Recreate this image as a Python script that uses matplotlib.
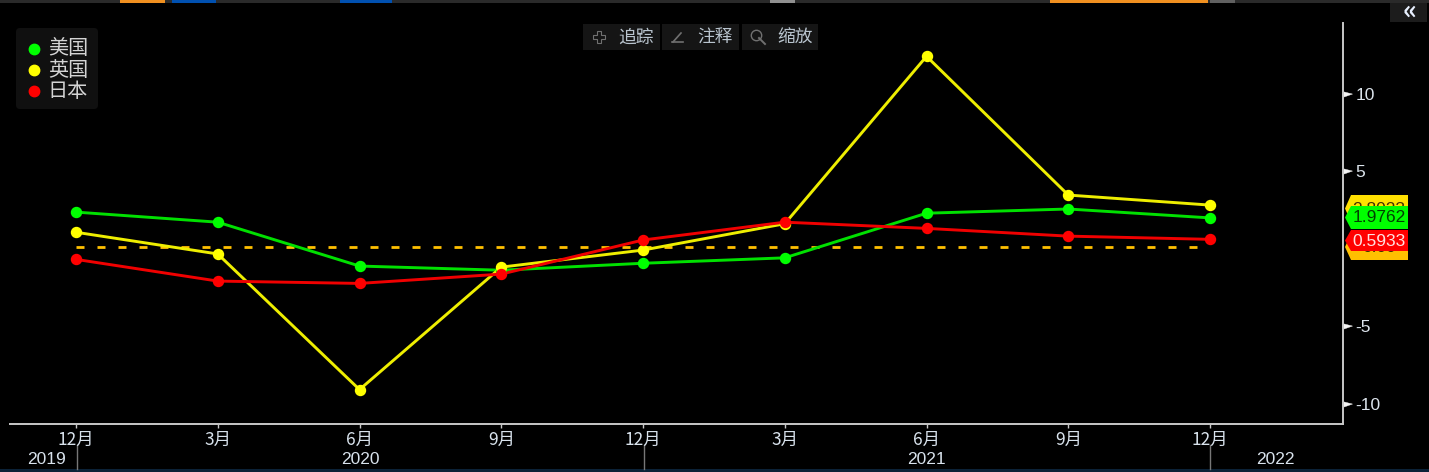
import matplotlib
matplotlib.use("Agg")
import matplotlib.pyplot as plt
from matplotlib.patches import Rectangle, FancyBboxPatch, Polygon
from matplotlib.lines import Line2D
from matplotlib.path import Path

plt.rcParams['font.family'] = ['Noto Sans CJK SC', 'DejaVu Sans']

W, H = 1429, 472
months = ['12月', '3月', '6月', '9月', '12月', '3月', '6月', '9月', '12月']
years = ['2019', '2020', '2021', '2022']
us = [2.35, 1.7, -1.13, -1.4, -0.95, -0.6, 2.28, 2.55, 1.9762]
uk = [1.05, -0.35, -9.1, -1.2, -0.1, 1.6, 12.4, 3.45, 2.8023]
jp = [-0.7, -2.1, -2.25, -1.65, 0.55, 1.7, 1.3, 0.8, 0.5933]
ref_line = [0.1, 0.1]
yticks = [-10, -5, 5, 10]
names = ['美国', '英国', '日本']
buttons = ['追踪', '注释', '缩放']
tag_labels = ['2.8023', '0.00', '1.9762', '0.5933']

fig = plt.figure(figsize=(W / 100, H / 100), dpi=100, facecolor='black')
bg = fig.add_axes([0, 0, 1, 1], facecolor='black')
bg.set_xlim(0, W); bg.set_ylim(H, 0); bg.axis('off')

L, R, T, B = 10, 1343, 23, 424
ax = fig.add_axes([L / W, 1 - B / H, (R - L) / W, (B - T) / H], facecolor='none')
ax.set_xlim(-0.4656, 8.938)
ax.set_ylim(-11.32, 14.55)
x = list(range(len(months)))

ax.plot([x[0], x[-1]], ref_line, color='#FFC000', lw=2, ls=(0, (2.88, 4.68)),
        dash_capstyle='butt', zorder=2)
for vals, c in [(us, '#00E000'), (uk, '#EEEE00'), (jp, '#F00000')]:
    ax.plot(x, vals, color=c, lw=2.1, zorder=3)
for vals, c in [(us, '#00FF00'), (uk, '#FFFF00'), (jp, '#FF0000')]:
    ax.plot(x, vals, ls='none', marker='o', ms=7.2, mfc=c, mec=c, zorder=4)

for s in ['top', 'left']:
    ax.spines[s].set_visible(False)
for s in ['right', 'bottom']:
    ax.spines[s].set_color('#C8C8C8')
    ax.spines[s].set_linewidth(1.4)
ax.yaxis.tick_right()
ax.set_yticks(yticks)
ax.set_yticklabels(['-10', '-5', '5', '10'], color='#DCE4EC', fontsize=12.5, family='Liberation Sans')
ax.tick_params(axis='y', length=7, width=1, color='#F0F0F0', pad=2)
flag = Path([(0, -0.3), (1, 0.05), (0, 0.3), (0, -0.3)])
for tk in ax.yaxis.get_major_ticks():
    tk.tick2line.set_marker(flag)
    tk.tick2line.set_markersize(13)
    tk.tick2line.set_markerfacecolor('#F4F4F4')
    tk.tick2line.set_markeredgecolor('#F4F4F4')
    tk.tick2line.set_markeredgewidth(0.3)
ax.set_xticks(x)
ax.set_xticklabels(months, color='#D8E2EC', fontsize=12.5)
ax.tick_params(axis='x', length=3, width=1, color='#C8C8C8', pad=2)

# year row and separators
for px, lab in [(47, years[0]), (360, years[1]), (926, years[2]), (1275, years[3])]:
    bg.text(px, 459, lab, color='#D8E2EC', fontsize=12.5, ha='center', va='center', family='Liberation Sans')
for px in [77, 644, 1210]:
    bg.plot([px, px], [445, 469], color='#777777', lw=1)

# legend
bg.add_patch(FancyBboxPatch((16, 28), 82, 81, boxstyle='round,pad=0,rounding_size=4',
                            fc='#101010', ec='none'))
for yy, c, n in zip([48.5, 70, 91], ['#00FF00', '#FFFF00', '#FF0000'], names):
    bg.add_line(Line2D([34.5], [yy], marker='o', ms=7.5, mfc=c, mec=c, ls='none'))
    bg.text(68, yy + 0.5, n, color='#D4D4D4', fontsize=14.5, ha='center', va='center')

# toolbar
for x0, wd, lab in zip([583, 662, 742], [77, 77, 76], buttons):
    bg.add_patch(Rectangle((x0, 24), wd, 26, fc='#151515', ec='none'))
    bg.text(x0 + 53, 38, lab, color='#B9C4CE', fontsize=12.8, ha='center', va='center')
bg.plot([599], [36.5], marker='P', ms=8, mfc='none', mec='#707070', mew=0.8)
bg.plot([672, 683], [42, 42], color='#707070', lw=1.2)
bg.plot([673, 681], [42, 33], color='#707070', lw=1.2)
bg.plot([756], [35], marker='o', ms=7.5, mfc='none', mec='#707070', mew=1)
bg.plot([759, 765], [38, 44], color='#707070', lw=1.4)

# last value tags
def tag(y0, y1, fc, lab, tc, z):
    ym = (y0 + y1) / 2
    bg.add_patch(Polygon([(1345, ym), (1351, y0), (1408, y0), (1408, y1), (1351, y1)],
                         closed=True, fc=fc, ec='none', zorder=z))
    bg.text(1379, ym + 0.5, lab, color=tc, fontsize=12.5, ha='center', va='center',
            family='Liberation Sans', zorder=z, clip_on=True)

tag(195, 222, '#FFE000', tag_labels[0], '#403000', 5)
tag(234, 260, '#FFC000', tag_labels[1], '#403000', 5)
tag(206, 229, '#00FF00', tag_labels[2], '#004000', 6)
tag(230, 251, '#FF0000', tag_labels[3], '#FFE0E0', 6)

# top-right collapse button
bg.add_patch(Rectangle((1390, 3), 37, 19, fc='#1C1C1C', ec='none'))
bg.text(1410, 11, '«', color='#E8F0FF', fontsize=19, ha='center', va='center', fontweight='bold')

# cropped interface strips
bg.add_patch(Rectangle((0, 0), W, 2.5, fc='#2A2A2A', ec='none'))
for x0, x1, c in [(120, 165, '#F09020'), (172, 216, '#0050B0'), (340, 392, '#0050B0'),
                  (1050, 1208, '#F09020'), (770, 795, '#909090'), (1210, 1235, '#606060')]:
    bg.add_patch(Rectangle((x0, 0), x1 - x0, 2.5, fc=c, ec='none'))
bg.add_patch(Rectangle((0, 469), W, 3, fc='#0B2238', ec='none'))

fig.savefig('out.png', dpi=100, facecolor='black')
